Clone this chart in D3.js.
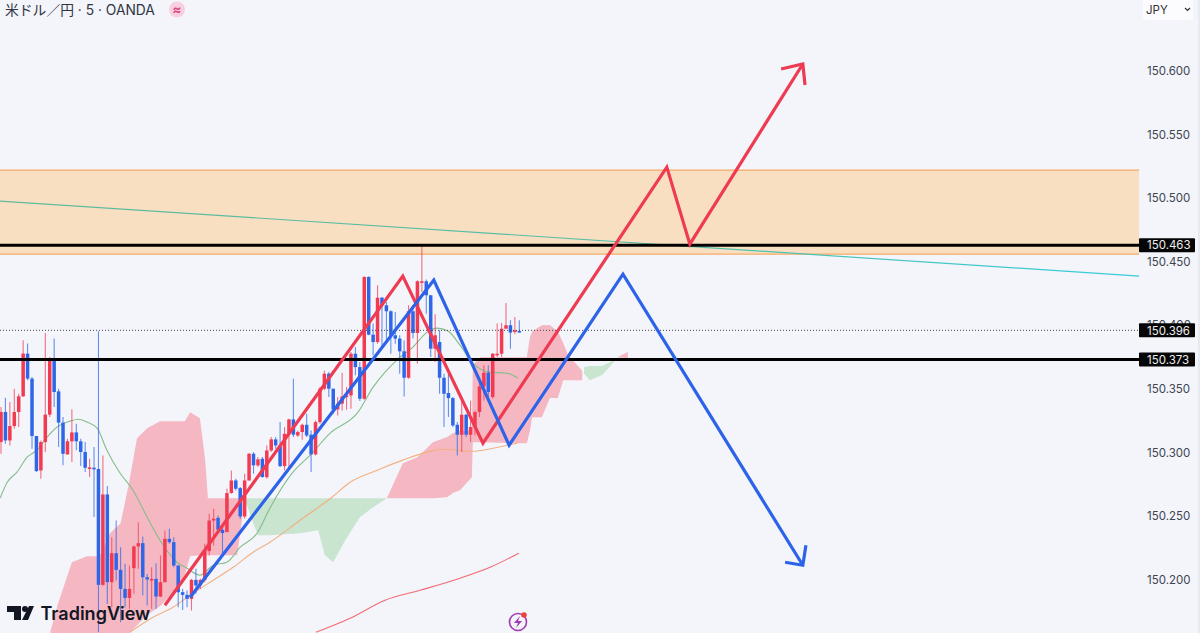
<!DOCTYPE html>
<html><head><meta charset="utf-8">
<script src="https://cdn.jsdelivr.net/npm/d3@7/dist/d3.min.js"></script>
<style>html,body{margin:0;padding:0;background:#f3f5fb;overflow:hidden}svg{display:block;font-family:Inter,"Noto Sans CJK JP",sans-serif}</style>
</head><body><svg id="c" width="1200" height="633"></svg>
<script>
const title="米ドル／円 · 5 · OANDA";
const currency="JPY";
const yTicks=[150.6,150.55,150.5,150.45,150.4,150.35,150.3,150.25,150.2];
const opens=[150.3081,150.3318,150.3094,150.3207,150.3318,150.3441,150.3777,150.3580,150.3129,150.2858,150.3081,150.3297,150.3730,150.3480,150.3234,150.2984,150.3087,150.3157,150.3087,150.3003,150.2874,150.2879,150.2869,150.1958,150.2669,150.1979,150.2207,150.2076,150.1926,150.1855,150.2089,150.2260,150.2286,150.2018,150.1997,150.2005,150.1866,150.1979,150.2320,150.2294,150.2110,150.1900,150.1879,150.1848,150.1997,150.1953,150.1997,150.2223,150.2464,150.2485,150.2391,150.2373,150.2680,150.2779,150.2719,150.2496,150.2779,150.2989,150.2898,150.2950,150.2805,150.3015,150.3102,150.3055,150.2892,150.3146,150.3259,150.3133,150.3160,150.3217,150.3139,150.2984,150.3238,150.3501,150.3619,150.3501,150.3338,150.3383,150.3435,150.3448,150.3776,150.3671,150.3422,150.4380,150.3926,150.3868,150.4217,150.4157,150.4110,150.3921,150.3895,150.3795,150.3587,150.4110,150.3939,150.4341,150.4346,150.4236,150.3816,150.3868,150.3587,150.3467,150.3427,150.3217,150.3139,150.3296,150.3139,150.3199,150.3317,150.3519,150.3627,150.3435,150.3771,150.3776,150.3973,150.4000,150.3947,150.3955];
const highs=[150.3357,150.3430,150.3396,150.3501,150.3462,150.3882,150.3856,150.3593,150.3129,150.3094,150.3940,150.3751,150.3895,150.3501,150.3278,150.3108,150.3339,150.3226,150.3108,150.3081,150.2950,150.3042,150.3953,150.2976,150.2735,150.2333,150.2464,150.2254,150.2123,150.2110,150.2268,150.2451,150.2338,150.2044,150.2097,150.2128,150.2189,150.2386,150.2399,150.2333,150.2110,150.1926,150.1913,150.2005,150.2084,150.2005,150.2281,150.2517,150.2556,150.2504,150.2425,150.2714,150.2858,150.2793,150.2727,150.2832,150.2995,150.3003,150.2963,150.2963,150.3055,150.3120,150.3120,150.3238,150.3199,150.3265,150.3580,150.3173,150.3225,150.3304,150.3173,150.3251,150.3514,150.3645,150.3632,150.3501,150.3435,150.3627,150.3514,150.3790,150.3829,150.3711,150.4385,150.4385,150.4013,150.4315,150.4223,150.4183,150.4118,150.4105,150.3921,150.3881,150.4157,150.4157,150.4354,150.4630,150.4359,150.4236,150.4086,150.3960,150.3619,150.3619,150.3435,150.3238,150.3409,150.3304,150.3409,150.3330,150.3566,150.3685,150.3685,150.3782,150.4013,150.4018,150.4175,150.4039,150.4065,150.4039];
const lows=[150.2989,150.3068,150.3055,150.3186,150.3199,150.3436,150.3567,150.3029,150.2845,150.2793,150.3003,150.3278,150.3357,150.3042,150.2898,150.2984,150.2924,150.3016,150.2892,150.2845,150.2806,150.2491,150.1585,150.1950,150.1808,150.1782,150.1992,150.1664,150.1782,150.1769,150.1887,150.2084,150.1874,150.1795,150.1769,150.1769,150.1861,150.1979,150.2281,150.2097,150.1782,150.1761,150.1782,150.1756,150.1887,150.1926,150.1979,150.2189,150.2268,150.2386,150.2202,150.2373,150.2674,150.2701,150.2478,150.2478,150.2779,150.2832,150.2884,150.2800,150.2792,150.3002,150.3028,150.2884,150.2858,150.2884,150.3120,150.3120,150.3099,150.3120,150.2845,150.2976,150.3225,150.3488,150.3435,150.3304,150.3291,150.3330,150.3336,150.3343,150.3606,150.3404,150.3414,150.3921,150.3763,150.3855,150.3829,150.3881,150.3776,150.3855,150.3619,150.3440,150.3580,150.3895,150.3698,150.4262,150.4091,150.3750,150.3711,150.3461,150.3199,150.3278,150.3199,150.2976,150.3002,150.3120,150.3081,150.3133,150.3278,150.3409,150.3435,150.3422,150.3750,150.3750,150.3973,150.3816,150.3929,150.3942];
const closes=[150.3318,150.3094,150.3207,150.3318,150.3441,150.3777,150.3580,150.3129,150.2853,150.3081,150.3297,150.3730,150.3475,150.3234,150.2989,150.3087,150.3157,150.3087,150.3003,150.2879,150.2882,150.2869,150.1958,150.2669,150.1979,150.2207,150.2076,150.1926,150.1855,150.1926,150.2260,150.2286,150.2018,150.2000,150.2005,150.1866,150.1979,150.2320,150.2294,150.2110,150.1900,150.1879,150.1848,150.1997,150.1953,150.1997,150.2228,150.2464,150.2478,150.2391,150.2365,150.2680,150.2779,150.2714,150.2496,150.2779,150.2989,150.2898,150.2945,150.2806,150.3015,150.3102,150.3055,150.2892,150.3146,150.3259,150.3139,150.3160,150.3217,150.3133,150.2984,150.3238,150.3501,150.3619,150.3501,150.3338,150.3383,150.3440,150.3448,150.3776,150.3671,150.3422,150.4380,150.3926,150.3868,150.4217,150.4157,150.4110,150.3921,150.3895,150.3795,150.3587,150.4110,150.3939,150.4346,150.4346,150.4236,150.3816,150.3921,150.3587,150.3461,150.3427,150.3212,150.3139,150.3296,150.3139,150.3199,150.3317,150.3519,150.3627,150.3475,150.3776,150.3776,150.3973,150.4000,150.3942,150.3960,150.3950];
// ichimoku cloud: [bar, upper, lower]
const kumoRed1=[[11.1,150.1585,150.1585],[12.9,150.1813,150.15],[16,150.2136,150.15],[19.4,150.2183,150.15],[22.3,150.2183,150.15],[24.6,150.2364,150.15],[27,150.2443,150.15],[28.7,150.2726,150.15],[29.1,150.2800,150.1585],[30.7,150.3112,150.1640],[33,150.3190,150.1720],[35.9,150.3245,150.1790],[39.3,150.3245,150.1915],[41.5,150.3245,150.2040],[42.7,150.3316,150.2183],[44.9,150.3269,150.2191],[46.1,150.2939,150.2191],[46.7,150.2640,150.2191],[53.3,150.2640,150.2191],[54.4,150.2640,150.2466],[55,150.2640,150.2640]];
const kumoGreen1=[[55,150.2640,150.2640],[56.7,150.2640,150.2466],[58,150.2640,150.2348],[60.7,150.2640,150.2348],[67.5,150.2640,150.2364],[71.6,150.2640,150.2388],[73.1,150.2640,150.2191],[75,150.2640,150.2136],[77.7,150.2640,150.2309],[81,150.2640,150.2490],[84,150.2640,150.2569],[87.1,150.2640,150.2640]];
const kumoRed2=[[87.1,150.2640,150.2640],[90.7,150.2915,150.2640],[94,150.2962,150.2640],[97.5,150.3080,150.2640],[100.7,150.3120,150.2647],[102,150.3151,150.2680],[103.6,150.3170,150.2702],[106.3,150.3170,150.2805],[106.5,150.3686,150.3080],[108.1,150.3749,150.3080],[116.5,150.3749,150.3072],[118.7,150.3749,150.3072],[119.4,150.3907,150.3170],[119.9,150.3950,150.3277],[121.7,150.3993,150.3277],[122.1,150.4000,150.3277],[123.9,150.4001,150.3427],[125.7,150.3950,150.3427],[126.9,150.3860,150.3568],[128,150.3765,150.3568],[130.7,150.3662,150.3568],[131.2,150.3640,150.3568]];
const kumoGreen2=[[131.6,150.3670,150.3620],[132.9,150.3680,150.3568],[135.7,150.3680,150.3608],[138.1,150.3720,150.3702],[139.1,150.3749,150.3749]];
const kumoRed3=[[139.1,150.3749,150.3749],[141.5,150.3789,150.3741]];
const maGreen=[[-0.2,150.2640],[1.4,150.2765],[3.6,150.2844],[5.9,150.2962],[8.1,150.3017],[10.4,150.3120],[12.6,150.3198],[15.6,150.3246],[17.4,150.3261],[19.4,150.3238],[21.7,150.3190],[23.9,150.3017],[26.9,150.2836],[29.8,150.2702],[33,150.2490],[36.6,150.2270],[39.7,150.2136],[42,150.2089],[44.9,150.2034],[47.9,150.2112],[51,150.2136],[54,150.2254],[57.8,150.2364],[60.7,150.2561],[65.9,150.2844],[69.8,150.2978],[74.3,150.3151],[80.6,150.3316],[84,150.3513],[86.7,150.3631],[90.1,150.3749],[93,150.3828],[96.2,150.3946],[98.4,150.3977],[100.9,150.3954],[103.6,150.3844],[106.5,150.3702],[110.4,150.3631],[114.2,150.3623],[116.7,150.3584]];
const maOrange=[[29.1,150.1585],[34.3,150.1703],[38.8,150.1781],[42.7,150.1876],[47.9,150.1994],[52.4,150.2096],[56.9,150.2215],[60.7,150.2293],[67.5,150.2466],[74.7,150.2647],[78.8,150.2765],[84.9,150.2860],[90.7,150.2939],[96.2,150.3002],[99.8,150.3025],[106.5,150.3009],[111.1,150.3033],[116.5,150.3072]];
const maRed=[[71.1,150.1585],[78.8,150.1695],[86.7,150.1837],[94.6,150.1915],[103.6,150.2010],[110.4,150.2096],[116.9,150.2207]];
const trendLine=[[-0.2,150.4977],[256.9,150.4387]];
const zoneTop=150.5221, zoneBottom=150.4560, zoneRight=256.9;
const levels=[150.463,150.373];
const lastPrice=150.396;
const redPath=[[37,150.1797],[90.7,150.4387],[108.8,150.3072],[150.3,150.5244],[155.5,150.4638],[181,150.6055]];
const redHead=[[176.1,150.6016],[181,150.6055],[181.5,150.5890]];
const bluePath=[[42.7,150.1860],[97.7,150.4355],[114.7,150.3057],[140.4,150.4402],[181,150.2112]];
const blueHead=[[177,150.2136],[181,150.2112],[181.7,150.2270]];

const UP="#f23a50",DOWN="#2f66e8",PLOT_W=1139;
const svg=d3.select("#c");
const x=d3.scaleLinear().domain([0,1]).range([1,5.43]);
const y=d3.scaleLinear().domain([150.2,150.6]).range([579.5,71]);
const line=d3.line().x(d=>x(d[0])).y(d=>y(d[1]));
const area=d3.area().x(d=>x(d[0])).y0(d=>y(d[2])).y1(d=>y(d[1]));

const defs=svg.append("defs");
const tg=defs.append("linearGradient").attr("id","tg").attr("gradientUnits","userSpaceOnUse").attr("x1",0).attr("x2",PLOT_W).attr("y1",0).attr("y2",0);
tg.append("stop").attr("offset",0).attr("stop-color","#62b99b");
tg.append("stop").attr("offset",.6).attr("stop-color","#55bfa8");
tg.append("stop").attr("offset",1).attr("stop-color","#35cbdc");

svg.append("rect").attr("width",1200).attr("height",633).attr("fill","#f3f5fb");
const plot=svg.append("g");
plot.append("rect").attr("x",0).attr("y",y(zoneTop)).attr("width",x(zoneRight)).attr("height",y(zoneBottom)-y(zoneTop)).attr("fill","#f8dfc1");
[zoneTop,zoneBottom].forEach(v=>plot.append("line").attr("x1",0).attr("x2",x(zoneRight)).attr("y1",y(v)).attr("y2",y(v)).attr("stroke","#f6ab62").attr("stroke-width",1.2));
[[kumoRed1,"#f5b8c3"],[kumoRed2,"#f5b8c3"],[kumoRed3,"#f5b8c3"],[kumoGreen1,"#c9e4cf"],[kumoGreen2,"#c9e4cf"]].forEach(([d,c])=>plot.append("path").attr("d",area(d)).attr("fill",c));
plot.append("path").attr("d",line(trendLine)).attr("fill","none").attr("stroke","url(#tg)").attr("stroke-width",1.2);
[[maGreen,"#86bd8c"],[maOrange,"#f3b080"],[maRed,"#f26a72"]].forEach(([d,c])=>plot.append("path").attr("d",d3.line().curve(d3.curveMonotoneX).x(p=>x(p[0])).y(p=>y(p[1]))(d)).attr("fill","none").attr("stroke",c).attr("stroke-width",1.1));

const candles=d3.range(opens.length).map(i=>({i,o:opens[i],h:highs[i],l:lows[i],c:closes[i]}));
const cg=plot.selectAll("g.k").data(candles).join("g").attr("class","k");
cg.append("line").attr("x1",d=>x(d.i)).attr("x2",d=>x(d.i)).attr("y1",d=>y(d.h)).attr("y2",d=>y(d.l))
  .attr("stroke",d=>d.c>=d.o?UP:DOWN).attr("stroke-width",1.1).attr("stroke-opacity",.72);
cg.append("rect").attr("x",d=>x(d.i)-1.75).attr("width",3.5)
  .attr("y",d=>y(Math.max(d.o,d.c))).attr("height",d=>Math.max(1.6,Math.abs(y(d.o)-y(d.c))))
  .attr("fill",d=>d.c>=d.o?UP:DOWN);

plot.append("line").attr("x1",0).attr("x2",PLOT_W).attr("y1",y(lastPrice)).attr("y2",y(lastPrice)).attr("stroke","#444").attr("stroke-width",1).attr("stroke-dasharray","1 2");
levels.forEach(v=>plot.append("line").attr("x1",0).attr("x2",PLOT_W).attr("y1",y(v)).attr("y2",y(v)).attr("stroke","#000").attr("stroke-width",3));
[[redPath,"#ee3b52"],[redHead,"#ee3b52"],[bluePath,"#2d63e8"],[blueHead,"#2d63e8"]].forEach(([d,c])=>plot.append("path").attr("d",line(d)).attr("fill","none").attr("stroke",c).attr("stroke-width",3.2));

const axis=d3.axisRight(y).tickValues(yTicks).tickFormat(d3.format(".3f")).tickSize(0).tickPadding(0);
const ag=svg.append("g").attr("transform","translate(1147,0)").call(axis);
ag.select(".domain").remove();
ag.selectAll("text").attr("fill","#3f4450").attr("font-size",11.5).attr("font-family","Inter,sans-serif");
svg.append("rect").attr("x",1198).attr("y",0).attr("width",2).attr("height",633).attr("fill","#e8eaf1");

[...levels,lastPrice].forEach(v=>{
  svg.append("rect").attr("x",1139).attr("y",y(v)-7).attr("width",56).attr("height",14).attr("rx",1).attr("fill","#060606");
  svg.append("text").attr("x",1147).attr("y",y(v)+4.2).attr("fill","#eeeeee").attr("font-size",11.5).attr("font-family","Inter,sans-serif").text(d3.format(".3f")(v));
});

svg.append("rect").attr("x",1143).attr("y",-4).attr("width",50).attr("height",24).attr("rx",3).attr("fill","#fcfcfe");
svg.append("text").attr("x",1146).attr("y",14).attr("font-size",11.5).attr("fill","#333").text(currency);
svg.append("path").attr("d","M1185 8L1187.5 10.5L1190 8").attr("fill","none").attr("stroke","#333").attr("stroke-width",1.2);

svg.append("text").attr("x",5).attr("y",14.5).attr("font-size",13.8).attr("fill","#30343f").text(title);
svg.append("circle").attr("cx",177).attr("cy",9.5).attr("r",8).attr("fill","#f8cfe0");
svg.append("text").attr("x",177).attr("y",14).attr("text-anchor","middle").attr("font-size",13).attr("font-weight",700).attr("fill","#d84a80").text("≈");

// TradingView logo
const logo=svg.append("g").attr("fill","#131722");
logo.append("path").attr("d","M7 606H21V620H14V612H7Z");
logo.append("circle").attr("cx",25).attr("cy",609).attr("r",3);
logo.append("path").attr("d","M29 606H34L28 620H22Z");
svg.append("text").attr("x",40.5).attr("y",620).attr("font-size",18).attr("font-weight",600).attr("fill","#131722").text("TradingView");

// lightning icon
svg.append("circle").attr("cx",518).attr("cy",622).attr("r",8.5).attr("fill","none").attr("stroke","#a13bb3").attr("stroke-width",1.6);
svg.append("path").attr("d","M520 616L514 623H518L516 628L522 621H518Z").attr("fill","#a13bb3");
svg.append("circle").attr("cx",524).attr("cy",615).attr("r",2.8).attr("fill","#ee4040");
</script></body></html>
